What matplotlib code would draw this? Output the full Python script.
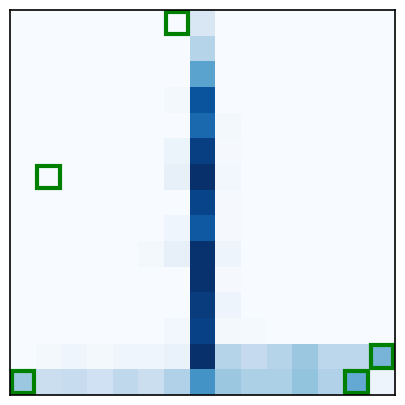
import matplotlib.pyplot as plt
import matplotlib.patches as patches
import numpy as np

# 15x15 grid of intensities (rows top -> bottom)
n = 15
col7 = [0.15, 0.30, 0.55, 0.86, 0.78, 0.94, 1.00, 0.92, 0.84, 0.99, 0.99, 0.95, 0.93, 1.00, 0.62]
col6 = {3: 0.02, 5: 0.06, 6: 0.08, 8: 0.04, 9: 0.08, 12: 0.03, 13: 0.07}
col5 = {9: 0.02}
col8 = {4: 0.02, 5: 0.01, 6: 0.03, 7: 0.01, 8: 0.01, 9: 0.05, 10: 0.01, 11: 0.05, 12: 0.02}
col9 = {12: 0.015}
row13 = [0.00, 0.02, 0.04, 0.02, 0.04, 0.04, 0.07, 1.00, 0.30, 0.25, 0.30, 0.38, 0.28, 0.28, 0.47]
row14 = [0.38, 0.22, 0.24, 0.20, 0.27, 0.22, 0.32, 0.62, 0.38, 0.33, 0.33, 0.40, 0.32, 0.52, 0.05]

# highlighted cells (row, col)
marked = [(0, 6), (6, 1), (13, 14), (14, 0), (14, 13)]

grid = np.zeros((n, n))
grid[:, 7] = col7
for c, d in [(5, col5), (6, col6), (8, col8), (9, col9)]:
    for r, v in d.items():
        grid[r, c] = v
grid[13, :] = row13
grid[14, :] = row14

fig = plt.figure(figsize=(4.05, 4.05), dpi=100)
ax = fig.add_axes([10/405, 10/405, 385/405, 385/405])
ax.imshow(grid, cmap='Blues', vmin=0, vmax=1, aspect='auto', interpolation='nearest')

for r, c in marked:
    ax.add_patch(patches.Rectangle((c - 0.5 + 0.07, r - 0.5 + 0.07), 0.86, 0.86,
                                   fill=False, edgecolor='green', linewidth=3))

ax.set_xticks([])
ax.set_yticks([])
for s in ax.spines.values():
    s.set_color('black')
    s.set_linewidth(1.2)

fig.savefig('out.png', dpi=100)
